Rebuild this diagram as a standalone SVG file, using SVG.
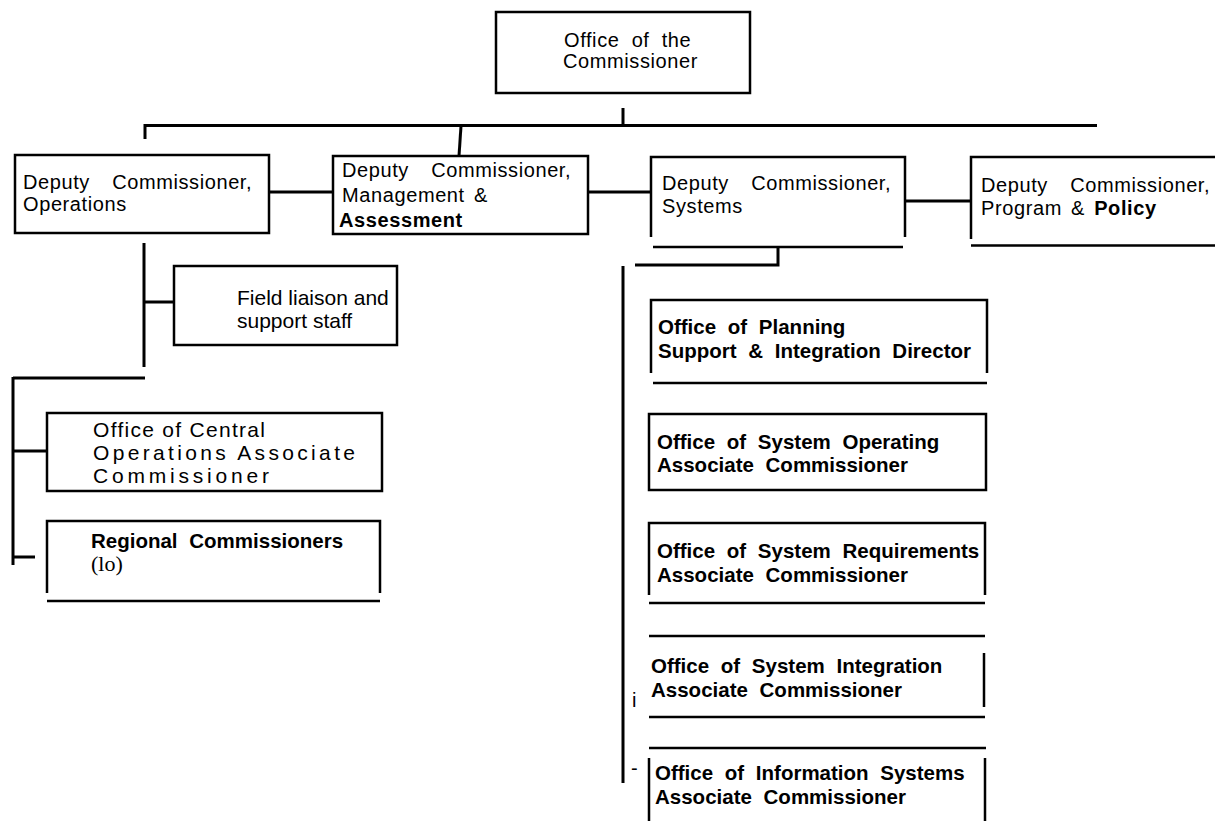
<svg xmlns="http://www.w3.org/2000/svg" width="1215" height="821" viewBox="0 0 1215 821">
<style>
.bx{fill:none;stroke:#000;stroke-width:2.5}
.ln{fill:none;stroke:#000;stroke-width:3}
.t{font-family:"Liberation Sans",Arial,Helvetica,sans-serif;font-size:20px;letter-spacing:0.6px;fill:#000}
.d{word-spacing:16px}
.b{font-weight:bold}
.r{font-family:"Liberation Sans",Arial,Helvetica,sans-serif;font-size:20.5px;font-weight:bold;fill:#000;word-spacing:6px}
.h{font-family:"Liberation Sans",Arial,Helvetica,sans-serif;font-size:21px;fill:#000}
.s{font-family:"Liberation Serif","Times New Roman",serif;font-size:22px;fill:#000}
</style>
<rect width="1215" height="821" fill="#fff"/>
<g id="connectors">
<path class="ln" d="M623,108V125"/>
<path class="ln" d="M145,125.5H1097M145,124V139"/>
<path class="ln" d="M461,126L459,156"/>
<path class="ln" d="M269,192H333"/>
<path class="ln" d="M588,192H650"/>
<path class="ln" d="M905,201H971"/>
<path class="ln" d="M144,243V367M144,302H174"/>
<path class="ln" d="M13,378H145M13,377V565M13,451H47M13,557H35"/>
<path class="ln" d="M778,247V265H635M623,266V783"/>
</g>
<g id="office-commissioner">
<rect class="bx" x="496" y="12" width="254" height="81"/>
<text class="t" x="564" y="47" word-spacing="6">Office of the</text>
<text class="t" x="563" y="68">Commissioner</text>
</g>
<g id="dc-operations">
<rect class="bx" x="15" y="155" width="254" height="78"/>
<text class="t d" x="23" y="189">Deputy Commissioner,</text>
<text class="t" x="23" y="211">Operations</text>
</g>
<g id="dc-management">
<rect class="bx" x="333" y="156" width="255" height="78"/>
<text class="t d" x="342" y="177">Deputy Commissioner,</text>
<text class="t" x="342" y="202" word-spacing="3">Management &amp;</text>
<text class="t b" x="339" y="227">Assessment</text>
</g>
<g id="dc-systems">
<path class="bx" d="M651,237V157H905V237M653,247H903"/>
<text class="t d" x="662" y="190">Deputy Commissioner,</text>
<text class="t" x="662" y="213">Systems</text>
</g>
<g id="dc-program">
<path class="bx" d="M971,239V157H1215M971,245.5H1215"/>
<text class="t d" x="981" y="192">Deputy Commissioner,</text>
<text class="t" x="981" y="215" word-spacing="3">Program &amp; <tspan class="b">Policy</tspan></text>
</g>
<g id="field-liaison">
<rect class="bx" x="174" y="266" width="223" height="79"/>
<text class="h" x="237" y="305" font-size="20">Field liaison and</text>
<text class="h" x="237" y="328" font-size="20">support staff</text>
</g>
<g id="central-operations">
<rect class="bx" x="47" y="413" width="335" height="78"/>
<text class="h" x="93" y="437" textLength="172" lengthAdjust="spacing">Office of Central</text>
<text class="h" x="93" y="460" textLength="262" lengthAdjust="spacing">Operations Associate</text>
<text class="h" x="93" y="483" textLength="176" lengthAdjust="spacing">Commissioner</text>
</g>
<g id="regional-commissioners">
<path class="bx" d="M47,593V521H380V593M47,601H380"/>
<text class="r" x="91" y="548" word-spacing="2">Regional Commissioners</text>
<text class="s" x="91" y="571">(lo)</text>
</g>
<g id="planning-support">
<path class="bx" d="M651,373V300H987V373M653,383H987"/>
<text class="r" x="658" y="334">Office of Planning</text>
<text class="r" x="658" y="358" word-spacing="11">Support &amp; Integration Director</text>
</g>
<g id="system-operating">
<rect class="bx" x="649" y="414" width="337" height="76"/>
<text class="r" x="657" y="449">Office of System Operating</text>
<text class="r" x="657" y="472" word-spacing="12">Associate Commissioner</text>
</g>
<g id="system-requirements">
<path class="bx" d="M649,595V523H985V595M649,603H985"/>
<text class="r" x="657" y="558" word-spacing="4">Office of System Requirements</text>
<text class="r" x="657" y="582" word-spacing="12">Associate Commissioner</text>
</g>
<g id="system-integration">
<path class="bx" d="M649,636H985M984,653V707M649,717H985"/>
<text class="r" x="651" y="673" word-spacing="8">Office of System Integration</text>
<text class="r" x="651" y="697" word-spacing="12">Associate Commissioner</text>
<text class="t" x="632" y="707" font-size="20">i</text>
</g>
<g id="information-systems">
<path class="bx" d="M649,748H986M649,758V821M985,758V821"/>
<text class="r" x="655" y="780" word-spacing="7">Office of Information Systems</text>
<text class="r" x="655" y="804" word-spacing="12">Associate Commissioner</text>
<text class="t" x="631" y="775" font-size="20">-</text>
</g>
</svg>
